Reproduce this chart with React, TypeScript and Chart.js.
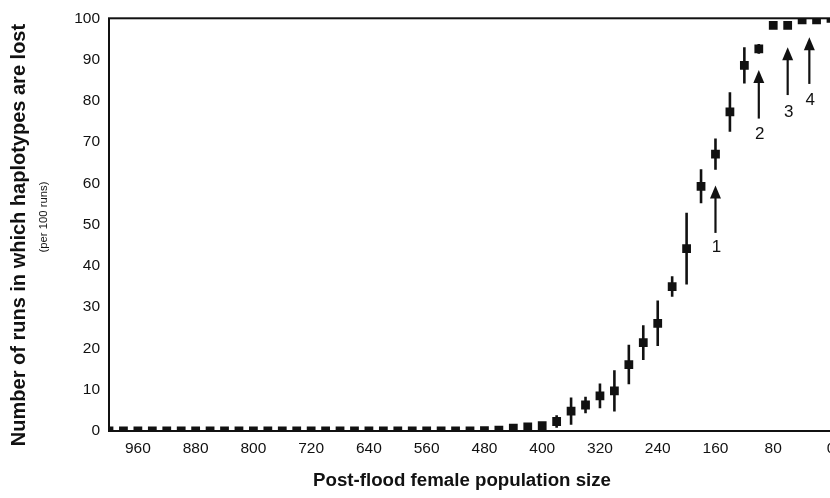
import React, { useEffect, useRef } from "react";
import { Chart, registerables } from "chart.js";

Chart.register(...registerables);

// Post-flood female population sizes (x), from large to small
const popSizes = [
  1000, 980, 960, 940, 920, 900, 880, 860, 840, 820,
  800, 780, 760, 740, 720, 700, 680, 660, 640, 620,
  600, 580, 560, 540, 520, 500, 480, 460, 440, 420,
  400, 380, 360, 340, 320, 300, 280, 260, 240, 220,
  200, 180, 160, 140, 120, 100, 80, 60, 40, 20, 0,
];

// Runs (per 100) in which haplotypes are lost
const lossMean = [
  0, 0, 0, 0, 0, 0, 0, 0, 0, 0,
  0, 0, 0, 0, 0, 0, 0, 0, 0, 0,
  0, 0, 0, 0, 0, 0, 0.1, 0.2, 0.7, 1.0,
  1.3, 2.3, 4.8, 6.3, 8.5, 9.7, 16.1, 21.4, 26.1, 35.0,
  44.2, 59.3, 67.1, 77.3, 88.6, 92.6, 98.3, 98.3, 99.6, 99.6, 100,
];

// Half-length of each error bar
const lossErr = [
  0, 0, 0, 0, 0, 0, 0, 0, 0, 0,
  0, 0, 0, 0, 0, 0, 0, 0, 0, 0,
  0, 0, 0, 0, 0, 0, 0, 0, 0, 0,
  0, 1.5, 3.3, 2.0, 3.0, 5.0, 4.8, 4.2, 5.5, 2.5,
  8.7, 4.1, 3.8, 4.8, 4.4, 1.2, 0, 0, 0, 0, 0,
];

const xTickValues = [0, 80, 160, 240, 320, 400, 480, 560, 640, 720, 800, 880, 960];
const yTickValues = [0, 10, 20, 30, 40, 50, 60, 70, 80, 90, 100];

// Numbered arrows: x position, arrow tail/tip and label height in data units
const arrowLabels = ["1", "2", "3", "4"];
const arrowX = [160, 100, 60, 30];
const arrowTip = [59.5, 87.5, 93, 95.4];
const arrowTail = [48, 75.7, 81.4, 84.1];
const arrowLabelY = [44.6, 72, 77.1, 80.2];

const FONT = '"Liberation Sans", Arial, Helvetica, sans-serif';
const INK = "#111";

const framePlugin = {
  id: "frame",
  afterDraw(chart: any) {
    const { ctx, chartArea: a } = chart;
    ctx.save();
    ctx.strokeStyle = INK;
    ctx.lineWidth = 2;
    ctx.strokeRect(a.left, a.top, a.right - a.left, a.bottom - a.top);
    ctx.restore();
  },
};

const errorBarPlugin = {
  id: "errorBars",
  beforeDatasetsDraw(chart: any) {
    const { ctx, chartArea: a, scales } = chart;
    const xs = scales.x;
    const ys = scales.y;
    ctx.save();
    ctx.beginPath();
    ctx.rect(a.left, a.top, a.right - a.left, a.bottom - a.top);
    ctx.clip();
    ctx.strokeStyle = INK;
    ctx.lineWidth = 2.6;
    popSizes.forEach((p, i) => {
      const e = lossErr[i];
      if (!e) return;
      const px = xs.getPixelForValue(p);
      ctx.beginPath();
      ctx.moveTo(px, ys.getPixelForValue(lossMean[i] - e));
      ctx.lineTo(px, ys.getPixelForValue(lossMean[i] + e));
      ctx.stroke();
    });
    ctx.restore();
  },
};

const arrowPlugin = {
  id: "arrows",
  afterDatasetsDraw(chart: any) {
    const { ctx, scales } = chart;
    const xs = scales.x;
    const ys = scales.y;
    ctx.save();
    ctx.strokeStyle = INK;
    ctx.fillStyle = INK;
    ctx.lineWidth = 2.2;
    arrowLabels.forEach((lab, i) => {
      const px = xs.getPixelForValue(arrowX[i]);
      const tip = ys.getPixelForValue(arrowTip[i]);
      const tail = ys.getPixelForValue(arrowTail[i]);
      const headH = 13;
      const headW = 5.5;
      ctx.beginPath();
      ctx.moveTo(px, tail);
      ctx.lineTo(px, tip + headH - 2);
      ctx.stroke();
      ctx.beginPath();
      ctx.moveTo(px, tip);
      ctx.lineTo(px + headW, tip + headH);
      ctx.lineTo(px - headW, tip + headH);
      ctx.closePath();
      ctx.fill();
      ctx.font = `17px ${FONT}`;
      ctx.textAlign = "center";
      ctx.textBaseline = "middle";
      ctx.fillText(lab, px + 1, ys.getPixelForValue(arrowLabelY[i]));
    });
    ctx.restore();
  },
};

const titlePlugin = {
  id: "axisTitles",
  afterDraw(chart: any) {
    const { ctx } = chart;
    ctx.save();
    ctx.fillStyle = INK;
    ctx.textAlign = "center";
    ctx.textBaseline = "middle";
    ctx.font = `bold 18.7px ${FONT}`;
    ctx.fillText("Post-flood female population size", 462, 481);

    ctx.save();
    ctx.translate(19, 235);
    ctx.rotate(-Math.PI / 2);
    ctx.font = `bold 20px ${FONT}`;
    ctx.fillText("Number of runs in which haplotypes are lost", 0, 0);
    ctx.restore();

    ctx.save();
    ctx.translate(44, 217);
    ctx.rotate(-Math.PI / 2);
    ctx.font = `11.3px ${FONT}`;
    ctx.fillText("(per 100 runs)", 0, 0);
    ctx.restore();
    ctx.restore();
  },
};

export default function App() {
  const canvasRef = useRef<HTMLCanvasElement | null>(null);

  useEffect(() => {
    const canvas = canvasRef.current;
    if (!canvas) return;
    const chart = new Chart(canvas, {
      type: "scatter",
      data: {
        datasets: [
          {
            data: popSizes.map((p, i) => ({ x: p, y: lossMean[i] })),
            pointStyle: "rect",
            pointRadius: 6.2,
            pointHoverRadius: 6.2,
            backgroundColor: INK,
            borderWidth: 0,
            showLine: false,
            clip: 0,
          } as any,
        ],
      },
      options: {
        animation: false,
        responsive: false,
        devicePixelRatio: 1,
        events: [],
        layout: { padding: { left: 0, top: 16, right: 29, bottom: 0 } },
        plugins: {
          legend: { display: false },
          tooltip: { enabled: false },
        },
        scales: {
          x: {
            type: "linear",
            min: 0,
            max: 1000,
            reverse: true,
            afterBuildTicks: (scale: any) => {
              scale.ticks = xTickValues.map((v) => ({ value: v }));
            },
            afterFit: (scale: any) => {
              scale.height = 67;
            },
            grid: { display: false, drawTicks: false },
            border: { display: false },
            ticks: {
              padding: 8,
              maxRotation: 0,
              autoSkip: false,
              color: INK,
              font: { family: FONT, size: 15.5 },
            },
          },
          y: {
            type: "linear",
            min: 0,
            max: 100,
            afterBuildTicks: (scale: any) => {
              scale.ticks = yTickValues.map((v) => ({ value: v }));
            },
            afterFit: (scale: any) => {
              scale.width = 109;
            },
            grid: { display: false, drawTicks: false },
            border: { display: false },
            ticks: {
              padding: 9,
              autoSkip: false,
              color: INK,
              font: { family: FONT, size: 15.5 },
            },
          },
        },
      },
      plugins: [errorBarPlugin, arrowPlugin, framePlugin, titlePlugin],
    });
    return () => chart.destroy();
  }, []);

  return (
    <div
      style={{
        position: "fixed",
        left: 0,
        top: 0,
        width: 830,
        height: 498,
        overflow: "hidden",
        background: "#fff",
      }}
    >
      <canvas ref={canvasRef} width={860} height={498} style={{ display: "block" }} />
    </div>
  );
}
